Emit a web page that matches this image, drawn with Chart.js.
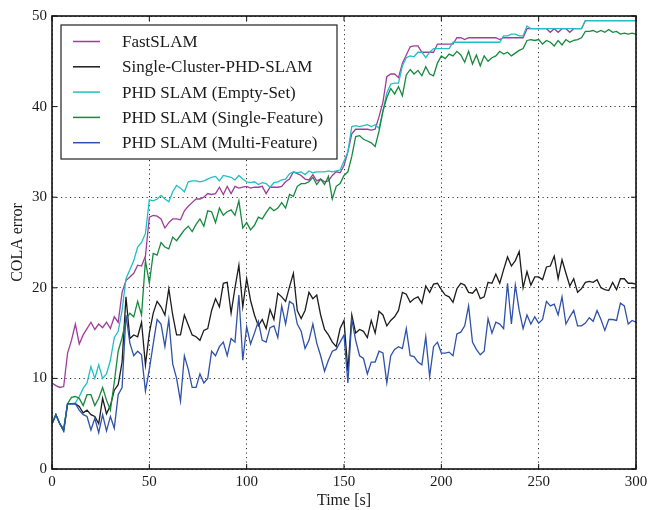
<!DOCTYPE html>
<html><head><meta charset="utf-8">
<script src="https://cdn.jsdelivr.net/npm/chart.js@4/dist/chart.umd.min.js"></script>
<style>html,body{margin:0;padding:0;background:#fff;}#wrap{width:648px;height:510px;}</style>
</head><body><div id="wrap"><canvas id="c" width="648" height="510"></canvas></div>
<script>
const time = [0,2,4,6,8,10,12,14,16,18,20,22,24,26,28,30,32,34,36,38,40,42,44,46,48,50,52,54,56,58,60,62,64,66,68,70,72,74,76,78,80,82,84,86,88,90,92,94,96,98,100,102,104,106,108,110,112,114,116,118,120,122,124,126,128,130,132,134,136,138,140,142,144,146,148,150,152,154,156,158,160,162,164,166,168,170,172,174,176,178,180,182,184,186,188,190,192,194,196,198,200,202,204,206,208,210,212,214,216,218,220,222,224,226,228,230,232,234,236,238,240,242,244,246,248,250,252,254,256,258,260,262,264,266,268,270,272,274,276,278,280,282,284,286,288,290,292,294,296,298,300];

const fastSlam = [9.5,9.2,9.0,9.1,12.8,14.2,16.0,13.8,14.8,15.5,
16.2,15.4,16.0,15.6,16.2,15.5,16.8,16.2,19.5,20.8,
21.2,21.6,22.5,22.4,23.5,27.8,28.0,27.9,27.6,26.6,
27.2,27.6,27.6,27.5,28.5,29.0,29.4,29.8,29.8,30.0,
30.4,30.3,30.4,31.1,30.3,31.2,30.4,31.2,31.0,31.1,
31.2,31.0,31.1,31.1,31.2,30.4,31.1,31.1,31.1,31.2,
31.7,32.0,32.8,32.6,32.4,32.0,31.9,32.5,31.8,32.0,
31.7,31.8,32.4,32.8,32.7,33.5,35.0,37.0,37.5,37.5,
37.5,37.5,37.4,37.5,38.9,40.5,43.3,43.6,43.6,43.2,
44.8,45.7,46.6,46.7,46.7,46.0,46.0,46.0,46.0,46.9,
46.9,46.9,46.9,46.9,47.6,47.6,47.4,47.6,47.6,47.6,
47.6,47.6,47.6,47.6,47.6,47.4,47.6,47.6,47.6,47.6,
47.6,47.6,48.6,48.6,48.6,48.6,48.6,48.6,48.2,48.6,
48.2,48.6,48.6,48.2,48.6,48.6,48.6,49.5,49.5,49.5,
49.5,49.5,49.5,49.5,49.5,49.5,49.5,49.5,49.5,49.5,
49.5];

const singleCluster = [5.0,6.0,5.0,4.2,7.2,7.2,7.2,6.9,6.2,6.5,
6.0,5.8,5.0,7.8,6.1,7.0,8.7,9.3,11.8,19.0,
14.4,14.8,14.6,16.2,11.5,15.0,17.2,18.5,17.9,17.0,
19.9,17.0,14.8,14.8,17.0,15.9,14.8,14.6,14.2,15.3,
15.5,17.5,18.8,17.9,20.5,20.6,17.2,20.0,22.5,17.9,
21.0,18.6,17.0,15.8,16.5,15.5,17.6,16.5,19.4,19.0,
18.5,20.1,21.6,17.5,16.6,17.5,19.5,18.8,19.2,17.0,
15.4,14.8,14.0,13.5,15.5,16.4,10.8,17.0,15.0,15.4,
15.2,14.5,16.4,15.0,17.4,17.0,15.8,16.4,16.8,17.5,
19.5,19.3,18.4,18.8,19.0,18.3,20.2,19.5,20.4,20.5,
19.8,19.2,19.0,18.4,19.9,20.5,20.3,19.5,19.4,19.9,
18.8,19.0,20.6,20.5,21.5,20.5,22.0,23.4,22.4,23.0,
24.0,20.0,21.8,20.3,21.2,21.2,20.9,22.3,22.4,23.5,
21.0,23.1,21.6,20.2,21.0,19.5,19.9,20.6,20.7,20.6,
20.9,20.0,19.8,19.7,20.6,19.8,21.0,21.0,20.5,20.5,
20.4];

const emptySet = [5.0,6.0,5.0,4.4,7.2,7.2,7.3,8.0,8.9,9.5,
11.3,10.0,11.5,10.0,10.5,12.0,14.5,15.2,17.5,21.0,
22.0,23.0,24.5,25.0,26.0,29.7,29.6,29.8,30.2,29.8,
29.5,30.6,31.3,31.0,30.6,31.7,31.8,31.8,31.7,31.8,
32.0,32.2,32.3,31.8,32.4,32.3,32.2,31.9,32.4,32.0,
31.7,31.6,31.7,31.4,31.6,31.5,31.1,31.6,31.7,31.9,
32.0,32.6,32.8,32.7,32.8,32.5,32.9,32.7,32.8,32.8,
32.8,32.9,32.8,32.9,33.0,34.0,35.0,37.8,37.9,37.8,
37.9,38.0,37.8,38.0,37.6,39.5,41.5,42.5,42.6,42.6,
44.5,45.4,45.6,45.5,46.0,46.0,45.4,46.0,46.4,46.4,
46.4,46.4,46.4,47.1,47.1,47.1,47.1,47.1,47.1,47.1,
47.1,47.1,47.1,47.1,47.1,47.1,47.8,47.8,48.0,48.0,
47.8,47.8,48.9,48.6,48.6,48.6,48.6,48.6,48.6,48.6,
48.6,48.6,48.6,48.6,48.6,48.6,48.6,49.5,49.5,49.5,
49.5,49.5,49.5,49.5,49.5,49.5,49.5,49.5,49.5,49.5,
49.5];

const singleFeature = [5.0,6.0,5.0,4.4,7.2,7.9,8.0,7.8,7.0,8.2,
8.2,7.0,7.8,9.0,7.6,6.5,9.6,13.0,14.5,16.5,
17.2,16.8,18.5,17.0,23.0,20.5,23.8,23.6,25.0,24.5,
24.3,25.6,25.2,25.8,26.4,26.8,26.2,27.0,27.6,26.8,
28.5,28.4,27.2,28.8,28.0,28.4,28.6,28.0,29.6,26.6,
27.2,26.4,26.9,27.8,27.6,28.3,28.9,28.5,28.8,29.4,
28.8,30.3,30.1,31.2,31.5,31.5,31.7,32.2,31.4,32.0,
31.4,32.3,29.8,31.2,31.5,32.4,32.8,34.5,36.7,36.8,
36.4,36.2,36.0,35.6,37.3,39.5,41.0,42.0,41.4,42.2,
41.2,43.5,44.1,43.6,44.0,43.4,44.4,43.6,43.4,44.8,
45.6,45.3,45.8,45.6,46.1,45.7,44.9,46.1,44.7,45.7,
44.5,45.6,45.0,45.4,45.6,46.1,45.8,46.0,45.6,45.9,
46.2,46.4,47.3,47.4,47.3,47.4,46.9,47.3,47.1,46.7,
47.3,46.8,47.4,47.1,47.3,47.4,47.6,48.3,48.3,48.4,
48.2,48.4,48.2,48.5,48.2,48.3,48.0,48.1,48.0,48.1,
48.0];

const multiFeature = [5.0,6.0,5.0,4.2,7.2,7.2,7.2,6.5,6.0,5.8,
4.3,5.6,4.0,6.0,4.2,5.8,4.5,8.2,9.0,17.0,
13.9,12.5,13.0,12.6,8.6,11.0,13.8,16.5,16.0,13.5,
16.5,11.6,10.0,7.5,12.5,11.0,9.0,9.0,10.5,9.5,
10.0,13.0,12.5,13.5,14.0,12.5,14.4,14.0,19.2,12.0,
15.7,13.8,15.0,16.3,14.2,14.0,15.6,15.8,14.5,18.0,
16.0,18.5,18.2,16.0,15.2,13.3,14.2,16.0,13.9,12.5,
10.8,12.0,13.0,13.2,14.0,14.8,9.5,16.5,14.2,12.5,
12.2,10.5,11.8,11.8,13.0,12.8,9.5,12.5,13.2,13.5,
13.3,15.5,12.5,12.4,11.8,11.5,14.6,10.2,13.5,14.0,
12.8,12.8,12.9,12.5,14.9,15.1,15.8,18.0,14.0,13.2,
12.6,13.0,16.6,15.0,16.2,16.0,15.5,20.5,16.0,20.3,
17.5,15.5,17.0,16.0,16.8,16.1,16.5,18.5,18.0,18.2,
17.0,19.0,16.0,16.8,17.5,15.8,15.8,16.1,16.7,16.3,
17.5,16.5,15.3,16.5,16.5,16.4,18.3,18.0,16.0,16.4,
16.2];

const seriesLabels = ['FastSLAM','Single-Cluster-PHD-SLAM','PHD SLAM (Empty-Set)','PHD SLAM (Single-Feature)','PHD SLAM (Multi-Feature)'];
const xTicks = [0,50,100,150,200,250,300];
const yTicks = [0,10,20,30,40,50];
const xTitle = 'Time [s]';
const yTitle = 'COLA error';

const colors = ['#a03c9e','#1c1c1c','#22bec3','#15893d','#2e51a9'];
const FONT = "'Liberation Serif','DejaVu Serif',serif";
const values = [fastSlam, singleCluster, emptySet, singleFeature, multiFeature];

const datasets = values.map((arr, i) => ({
  label: seriesLabels[i],
  data: arr.map((v, j) => ({x: time[j], y: v})),
  borderColor: colors[i],
  backgroundColor: colors[i],
  borderWidth: 1.3,
  pointRadius: 0,
  tension: 0,
  fill: false,
  order: 5 - i
}));

const framePlugin = {
  id: 'frame',
  afterDraw(chart) {
    const {ctx, chartArea: a, scales} = chart;
    const x = scales.x, y = scales.y;
    ctx.save();
    ctx.strokeStyle = '#111';
    ctx.lineWidth = 1;
    const L = 5;
    const seg = (x1, y1, x2, y2) => { ctx.beginPath(); ctx.moveTo(x1, y1); ctx.lineTo(x2, y2); ctx.stroke(); };
    xTicks.forEach(v => { const p = x.getPixelForValue(v); seg(p, a.bottom, p, a.bottom - L); seg(p, a.top, p, a.top + L); });
    yTicks.forEach(v => { const p = y.getPixelForValue(v); seg(a.left, p, a.left + L, p); seg(a.right, p, a.right - L, p); });
    ctx.lineWidth = 1.6;
    ctx.strokeRect(a.left, a.top, a.right - a.left, a.bottom - a.top);
    // legend
    const bx = 61, by = 25, bw = 276, bh = 134;
    ctx.fillStyle = '#fff';
    ctx.fillRect(bx, by, bw, bh);
    ctx.lineWidth = 1.2;
    ctx.strokeStyle = '#222';
    ctx.strokeRect(bx, by, bw, bh);
    ctx.font = '17px ' + FONT;
    ctx.textBaseline = 'middle';
    ctx.textAlign = 'left';
    chart.data.datasets.forEach((ds, i) => {
      const ry = 41.5 + i * 25.3;
      ctx.strokeStyle = ds.borderColor;
      ctx.lineWidth = 1.5;
      seg(73, ry, 100, ry);
      ctx.fillStyle = '#1a1a1a';
      ctx.fillText(ds.label, 122, ry + 1);
    });
    ctx.restore();
  }
};

new Chart(document.getElementById('c'), {
  type: 'line',
  data: {datasets},
  options: {
    responsive: false,
    animation: false,
    devicePixelRatio: 1,
    layout: {padding: {top: 16, right: 12, left: 0, bottom: 0}},
    plugins: {legend: {display: false}, tooltip: {enabled: false}},
    scales: {
      x: {
        type: 'linear', min: 0, max: 300,
        afterBuildTicks: s => { s.ticks = xTicks.map(v => ({value: v})); },
        afterFit: s => { s.height = 41; s.paddingRight = 0; s.paddingLeft = 0; },
        ticks: {font: {family: FONT, size: 15}, color: '#1a1a1a', padding: 4, maxRotation: 0},
        grid: {color: '#333', lineWidth: 1, drawTicks: false},
        border: {display: false, dash: [1.2, 3.3]},
        title: {display: true, text: xTitle, font: {family: FONT, size: 16}, color: '#1a1a1a', padding: {top: 0, bottom: 0}}
      },
      y: {
        type: 'linear', min: 0, max: 50,
        afterBuildTicks: s => { s.ticks = yTicks.map(v => ({value: v})); },
        afterFit: s => { s.width = 52; s.paddingTop = 0; s.paddingBottom = 0; },
        ticks: {font: {family: FONT, size: 15}, color: '#1a1a1a', padding: 5},
        grid: {color: '#333', lineWidth: 1, drawTicks: false},
        border: {display: false, dash: [1.2, 3.3]},
        title: {display: true, text: yTitle, font: {family: FONT, size: 16}, color: '#1a1a1a', padding: {top: 8, bottom: 0}}
      }
    }
  },
  plugins: [framePlugin]
});
</script>
</body></html>
